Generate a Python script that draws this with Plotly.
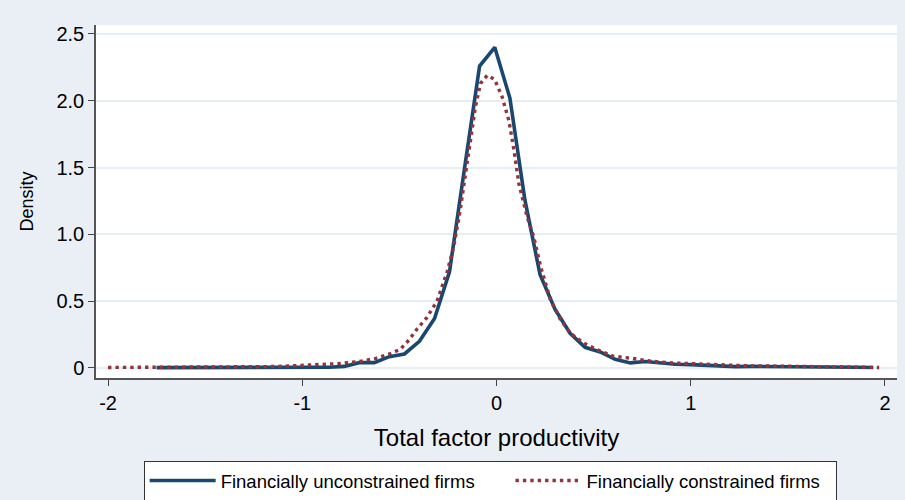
import plotly.graph_objects as go

# Kernel density estimates of total factor productivity by financing status
tfp_unconstrained = [
    -1.750, -1.637, -1.559, -1.482, -1.404, -1.327, -1.249, -1.172, -1.094, -1.017,
    -0.939, -0.862, -0.784, -0.707, -0.629, -0.552, -0.474, -0.397, -0.319, -0.242,
    -0.164, -0.087, -0.009, 0.069, 0.146, 0.224, 0.301, 0.379, 0.456, 0.534,
    0.611, 0.689, 0.766, 0.844, 0.921, 0.999, 1.076, 1.154, 1.231, 1.309,
    1.386, 1.464, 1.541, 1.619, 1.696, 1.774, 1.851, 1.940,
]
density_unconstrained = [
    0.003, 0.003, 0.003, 0.003, 0.004, 0.005, 0.006, 0.004, 0.003, 0.003,
    0.004, 0.006, 0.012, 0.040, 0.040, 0.085, 0.105, 0.200, 0.370, 0.720,
    1.500, 2.260, 2.400, 2.020, 1.260, 0.700, 0.440, 0.260, 0.155, 0.120,
    0.065, 0.038, 0.048, 0.035, 0.028, 0.025, 0.020, 0.015, 0.010, 0.012,
    0.012, 0.008, 0.006, 0.007, 0.007, 0.006, 0.006, 0.004,
]

tfp_constrained = [
    -2.000, -1.900, -1.800, -1.700, -1.600, -1.500, -1.400, -1.300, -1.200, -1.100,
    -1.000, -0.900, -0.800, -0.700, -0.620, -0.550, -0.495, -0.450, -0.410, -0.360,
    -0.306, -0.254, -0.220, -0.186, -0.151, -0.108, -0.082, -0.048, -0.010, 0.029,
    0.064, 0.090, 0.115, 0.158, 0.192, 0.227, 0.278, 0.330, 0.380, 0.450,
    0.520, 0.600, 0.700, 0.800, 0.900, 1.000, 1.100, 1.200, 1.300, 1.400,
    1.500, 1.600, 1.700, 1.800, 1.900, 1.970,
]
density_constrained = [
    0.004, 0.004, 0.004, 0.005, 0.005, 0.006, 0.007, 0.008, 0.010, 0.013,
    0.020, 0.027, 0.034, 0.050, 0.072, 0.105, 0.140, 0.210, 0.290, 0.375,
    0.500, 0.720, 0.910, 1.190, 1.530, 1.960, 2.130, 2.190, 2.160, 2.030,
    1.850, 1.630, 1.380, 1.130, 0.980, 0.760, 0.510, 0.360, 0.260, 0.185,
    0.135, 0.088, 0.072, 0.050, 0.038, 0.031, 0.025, 0.020, 0.016, 0.015,
    0.013, 0.011, 0.010, 0.008, 0.006, 0.004,
]

series_names = ["Financially unconstrained firms", "Financially constrained firms"]

x_ticks = [-2, -1, 0, 1, 2]
x_tick_labels = ["-2", "-1", "0", "1", "2"]
y_ticks = [0, 0.5, 1.0, 1.5, 2.0, 2.5]
y_tick_labels = ["0", "0.5", "1.0", "1.5", "2.0", "2.5"]

NAVY = "#1a476f"
MAROON = "#90353b"
BG = "#eaeff5"
FONT = "Arial, Liberation Sans, sans-serif"

# non-breaking spaces widen the gap between legend entries and the right padding
ENTRY_PAD = "\u00a0" * 6
END_PAD = "\u00a0" * 2

fig = go.Figure()
fig.add_trace(go.Scatter(
    x=tfp_unconstrained, y=density_unconstrained, mode="lines",
    name=series_names[0] + ENTRY_PAD,
    line=dict(color=NAVY, width=3.6),
))
fig.add_trace(go.Scatter(
    x=tfp_constrained, y=density_constrained, mode="lines",
    name=series_names[1] + END_PAD,
    line=dict(color=MAROON, width=3.4, dash="3.4px,4px"),
))

fig.update_layout(
    width=905, height=500,
    margin=dict(l=96, r=8, t=25, b=122, autoexpand=False),
    paper_bgcolor=BG,
    plot_bgcolor="white",
    font=dict(family=FONT, color="black"),
    showlegend=True,
    legend=dict(
        orientation="h",
        x=0.0595, xanchor="left",
        y=-0.235, yanchor="top",
        bgcolor="white",
        bordercolor="#333333", borderwidth=1,
        font=dict(size=18.5, family=FONT, color="black"),
        itemwidth=66,
        tracegroupgap=0,
    ),
)

fig.update_xaxes(
    range=[-2.062, 2.062],
    tickmode="array", tickvals=x_ticks, ticktext=x_tick_labels,
    ticks="outside", ticklen=6, tickwidth=1.2, tickcolor="#444444",
    tickfont=dict(size=20, family=FONT, color="black"),
    showline=True, linecolor="#555555", linewidth=1.5,
    showgrid=False, zeroline=False,
    title=dict(text="Total factor productivity", font=dict(size=24, family=FONT, color="black"), standoff=16),
)
fig.update_yaxes(
    range=[-0.0749, 2.567],
    tickmode="array", tickvals=y_ticks, ticktext=y_tick_labels,
    ticks="outside", ticklen=6, tickwidth=1.2, tickcolor="#444444",
    tickfont=dict(size=20, family=FONT, color="black"),
    showline=True, linecolor="#555555", linewidth=1.5,
    showgrid=True, gridcolor="#e6edf4", gridwidth=1.5,
    zeroline=False,
    title=dict(text="Density", font=dict(size=18, family=FONT, color="black"), standoff=18),
)

fig.write_html("out.html")
